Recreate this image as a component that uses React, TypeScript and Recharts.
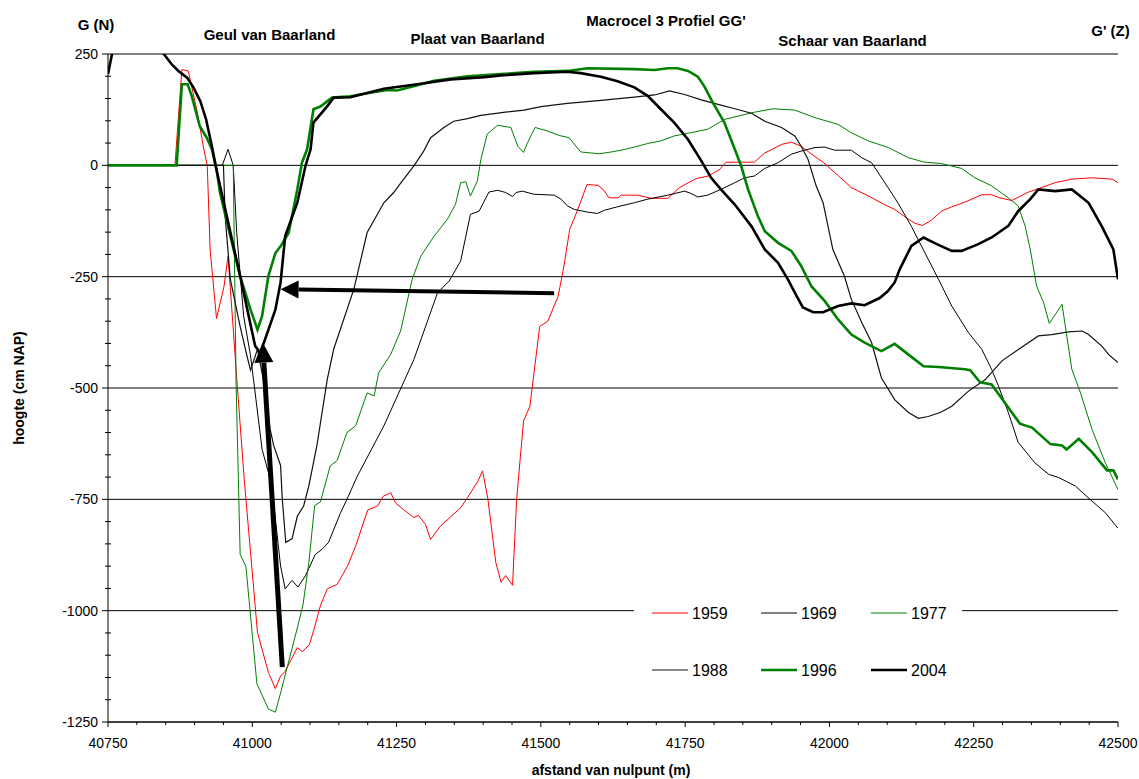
import React from 'react';
import { LineChart, Line, XAxis, YAxis, CartesianGrid, ReferenceLine } from 'recharts';

type Pt = [number, number];

const FONT = '"Liberation Sans", Arial, sans-serif';

// axis ticks
const yMajor = [250, 0, -250, -500, -750, -1000, -1250];
const xMajor = [40750, 41000, 41250, 41500, 41750, 42000, 42250, 42500];
const yTicks = Array.from({ length: 31 }, (_, i) => -1250 + i * 50);
const xTicks = Array.from({ length: 36 }, (_, i) => 40750 + i * 50);

// profiles [afstand (m), hoogte (cm NAP)]
const d1959: Pt[] = [
  [40750, 0], [40866, 0], [40878, 215], [40889, 212], [40904, 124], [40915, 44], [40922, -2], [40927, -190],
  [40938, -344], [40951, -272], [40958, -204], [40974, -495], [40986, -705], [41009, -1049], [41028, -1139],
  [41040, -1175], [41049, -1147], [41057, -1136], [41078, -1083], [41087, -1092], [41099, -1076], [41106, -1046],
  [41118, -989], [41130, -951], [41147, -941], [41165, -900], [41179, -855], [41200, -774], [41217, -765],
  [41227, -743], [41240, -735], [41248, -758], [41262, -773], [41280, -791], [41288, -786], [41300, -806],
  [41309, -840], [41326, -810], [41361, -769], [41373, -746], [41391, -709], [41399, -686], [41408, -747],
  [41422, -892], [41431, -936], [41439, -921], [41451, -943], [41458, -750], [41470, -574], [41481, -541],
  [41498, -362], [41512, -350], [41530, -294], [41540, -226], [41550, -144], [41564, -99], [41580, -43],
  [41599, -45], [41608, -54], [41618, -73], [41634, -73], [41639, -67], [41668, -67], [41691, -74], [41720, -74],
  [41740, -50], [41769, -30], [41790, -24], [41809, -10], [41821, 7], [41870, 7], [41887, 27], [41917, 47],
  [41934, 52], [41951, 43], [41965, 29], [41990, 6], [42016, -24], [42038, -50], [42068, -69], [42095, -88],
  [42113, -99], [42137, -121], [42148, -130], [42161, -135], [42177, -123], [42194, -103], [42212, -93],
  [42234, -83], [42264, -66], [42281, -66], [42295, -73], [42316, -79], [42345, -60], [42363, -52], [42391, -39],
  [42420, -31], [42455, -28], [42490, -31], [42500, -39],
];

const d1969: Pt[] = [
  [40750, 0], [40948, 0], [40958, 36], [40967, 0], [40973, -151], [40985, -338], [40997, -428], [41002, -480],
  [41017, -638], [41028, -690], [41037, -758], [41049, -900], [41057, -951], [41069, -932], [41079, -947],
  [41092, -922], [41109, -874], [41121, -862], [41132, -847], [41153, -780], [41164, -750], [41182, -698],
  [41228, -585], [41280, -436], [41321, -286], [41341, -260], [41361, -215], [41378, -110], [41393, -103],
  [41410, -60], [41425, -56], [41439, -61], [41451, -70], [41457, -61], [41468, -58], [41488, -65], [41523, -67],
  [41535, -76], [41546, -91], [41558, -99], [41581, -105], [41598, -108], [41610, -101], [41633, -93],
  [41662, -84], [41685, -76], [41720, -67], [41749, -58], [41760, -63], [41772, -71], [41789, -67], [41812, -54],
  [41836, -39], [41853, -28], [41870, -24], [41888, -7], [41911, 6], [41934, 25], [41951, 32], [41975, 40],
  [41992, 41], [42009, 34], [42038, 34], [42056, 17], [42073, 6], [42096, -39], [42119, -85], [42142, -137],
  [42189, -256], [42212, -316], [42241, -376], [42264, -413], [42281, -458], [42293, -496], [42310, -555],
  [42327, -622], [42356, -668], [42380, -694], [42397, -701], [42426, -720], [42455, -754], [42478, -780],
  [42500, -815],
];

const d1977: Pt[] = [
  [40750, 0], [40967, 0], [40972, -494], [40979, -874], [40989, -901], [41008, -1164], [41028, -1221],
  [41040, -1228], [41049, -1185], [41078, -1039], [41088, -986], [41098, -892], [41108, -764], [41118, -756],
  [41135, -675], [41147, -663], [41164, -600], [41179, -585], [41199, -511], [41211, -518], [41219, -466],
  [41240, -424], [41257, -372], [41277, -256], [41292, -204], [41315, -159], [41338, -121], [41352, -88],
  [41361, -39], [41370, -37], [41378, -69], [41390, -35], [41396, 13], [41407, 70], [41425, 90], [41448, 85],
  [41460, 43], [41470, 29], [41477, 51], [41490, 85], [41512, 77], [41532, 67], [41549, 62], [41569, 30],
  [41601, 26], [41622, 30], [41639, 34], [41662, 41], [41685, 49], [41708, 55], [41731, 66], [41755, 72],
  [41789, 81], [41818, 103], [41865, 118], [41902, 127], [41940, 124], [41975, 107], [42015, 92], [42038, 73],
  [42067, 55], [42102, 40], [42137, 17], [42165, 7], [42194, 4], [42229, -7], [42252, -28], [42281, -46],
  [42310, -73], [42327, -91], [42339, -136], [42348, -189], [42359, -271], [42371, -308], [42381, -355],
  [42403, -312], [42420, -458], [42435, -511], [42455, -593], [42478, -668], [42500, -728],
];

const d1988: Pt[] = [
  [40750, 0], [40950, 0], [40953, -115], [40962, -256], [40979, -362], [40991, -429], [40997, -460],
  [41009, -413], [41019, -480], [41031, -593], [41037, -629], [41049, -674], [41052, -749], [41058, -847],
  [41069, -838], [41078, -788], [41089, -765], [41098, -720], [41112, -629], [41130, -480], [41141, -413],
  [41176, -278], [41199, -151], [41228, -84], [41245, -61], [41260, -35], [41280, -1], [41297, 32], [41309, 62],
  [41332, 85], [41349, 99], [41373, 105], [41396, 112], [41442, 120], [41471, 124], [41500, 132], [41546, 139],
  [41604, 146], [41662, 153], [41697, 158], [41723, 167], [41749, 159], [41778, 147], [41807, 137], [41836, 127],
  [41865, 117], [41888, 99], [41917, 85], [41940, 66], [41951, 43], [41963, 13], [41977, -46], [41989, -84],
  [42006, -189], [42026, -249], [42038, -301], [42056, -353], [42073, -398], [42090, -477], [42113, -526],
  [42137, -555], [42154, -568], [42171, -564], [42192, -555], [42212, -541], [42241, -507], [42270, -481],
  [42299, -439], [42328, -413], [42362, -383], [42385, -380], [42414, -374], [42438, -372], [42449, -380],
  [42472, -406], [42484, -425], [42500, -443],
];

const d1996: Pt[] = [
  [40750, 0], [40869, 0], [40878, 182], [40888, 182], [40895, 156], [40909, 88], [40921, 62], [40930, 36],
  [40939, -16], [40944, -61], [40962, -159], [40979, -249], [40997, -324], [41009, -369], [41017, -338],
  [41028, -248], [41040, -197], [41049, -182], [41063, -152], [41078, -54], [41086, 6], [41095, 36],
  [41106, 126], [41118, 132], [41138, 152], [41170, 155], [41199, 162], [41234, 169], [41251, 168], [41286, 180],
  [41315, 190], [41373, 200], [41431, 205], [41488, 210], [41546, 212], [41581, 218], [41662, 216], [41697, 214],
  [41720, 218], [41737, 218], [41755, 212], [41772, 199], [41783, 178], [41798, 141], [41818, 96], [41836, 36],
  [41847, -1], [41859, -54], [41876, -114], [41888, -148], [41911, -174], [41934, -192], [41951, -226],
  [41969, -272], [41992, -305], [42015, -346], [42038, -380], [42061, -398], [42090, -417], [42113, -401],
  [42137, -425], [42163, -451], [42189, -453], [42235, -458], [42244, -460], [42261, -487], [42281, -492],
  [42304, -533], [42330, -580], [42351, -589], [42383, -626], [42403, -629], [42411, -638], [42432, -614],
  [42455, -644], [42481, -685], [42492, -685], [42500, -705],
];

const d2004: Pt[] = [
  [40750, 205], [40757, 250], [40780, 320], [40815, 310], [40846, 251], [40861, 226], [40872, 212],
  [40887, 197], [40898, 175], [40910, 144], [40920, 103], [40930, 43], [40939, -16], [40979, -249],
  [41005, -406], [41014, -421], [41040, -324], [41049, -263], [41057, -159], [41078, -84], [41092, -2],
  [41101, 36], [41106, 96], [41130, 133], [41141, 152], [41170, 153], [41228, 172], [41286, 182], [41344, 193],
  [41402, 198], [41431, 202], [41488, 207], [41546, 210], [41569, 207], [41604, 199], [41633, 189], [41662, 175],
  [41685, 156], [41708, 126], [41731, 96], [41755, 58], [41778, 10], [41795, -28], [41812, -54], [41836, -88],
  [41865, -137], [41888, -189], [41911, -219], [41928, -256], [41943, -293], [41954, -319], [41972, -330],
  [41989, -330], [42015, -316], [42038, -310], [42061, -314], [42087, -298], [42101, -283], [42113, -263],
  [42122, -233], [42142, -181], [42163, -162], [42186, -177], [42212, -192], [42229, -192], [42258, -177],
  [42281, -162], [42310, -136], [42327, -103], [42348, -76], [42362, -54], [42391, -58], [42420, -54],
  [42449, -84], [42472, -137], [42492, -189], [42500, -256],
];

// annotation arrows: [tail, tip]
const arrowWest: Pt[] = [[41523, -287], [41049, -278]];
const arrowNorth: Pt[] = [[41052, -1127], [41018, -398]];

const series = [
  { name: '1959', data: d1959, color: '#ff0000', width: 1 },
  { name: '1969', data: d1969, color: '#000000', width: 1 },
  { name: '1977', data: d1977, color: '#008000', width: 1 },
  { name: '1988', data: d1988, color: '#111111', width: 1.2 },
  { name: '1996', data: d1996, color: '#008000', width: 2.6 },
  { name: '2004', data: d2004, color: '#000000', width: 2.6 },
];

const YTick = (props: any) => {
  const { x, y, payload } = props;
  const v = payload.value;
  if (v % 250 !== 0) {
    return <line x1={x - 3} x2={x + 3} y1={y} y2={y} stroke="#000" />;
  }
  return (
    <g>
      <line x1={x - 6} x2={x} y1={y} y2={y} stroke="#000" />
      <text x={x - 10} y={y + 5} textAnchor="end" fontSize={14} fontFamily={FONT} fill="#000">
        {v}
      </text>
    </g>
  );
};

const XTick = (props: any) => {
  const { x, y, payload } = props;
  const v = payload.value;
  if (v % 250 !== 0) {
    return <line x1={x} x2={x} y1={y} y2={y + 3} stroke="#000" />;
  }
  return (
    <g>
      <line x1={x} x2={x} y1={y} y2={y + 5} stroke="#000" />
      <text x={x} y={y + 26} textAnchor="middle" fontSize={14} fontFamily={FONT} fill="#000">
        {v}
      </text>
    </g>
  );
};

const arrowShape = (w: number, head: number, half: number) => (props: any) => {
  const { x1, y1, x2, y2 } = props;
  const dx = x2 - x1;
  const dy = y2 - y1;
  const len = Math.hypot(dx, dy) || 1;
  const ux = dx / len;
  const uy = dy / len;
  const bx = x2 - ux * head;
  const by = y2 - uy * head;
  return (
    <g>
      <line x1={x1} y1={y1} x2={bx} y2={by} stroke="#000" strokeWidth={w} />
      <polygon
        points={`${x2},${y2} ${bx - uy * half},${by + ux * half} ${bx + uy * half},${by - ux * half}`}
        fill="#000"
      />
    </g>
  );
};

const legendCols = [652, 761, 871];
const legendRows = [613, 670];

export default function App() {
  return (
    <div style={{ position: 'absolute', left: 0, top: 0, width: 1139, height: 779, background: '#fff' }}>
      <LineChart width={1139} height={779} margin={{ top: 54, right: 21, bottom: 27, left: 48 }}>
        <CartesianGrid vertical={false} horizontalValues={yMajor} stroke="#000" strokeWidth={1} />
        <XAxis
          dataKey="x"
          type="number"
          domain={[40750, 42500]}
          ticks={xTicks}
          interval={0}
          height={30}
          tickSize={0}
          tickMargin={0}
          tickLine={false}
          axisLine={{ stroke: '#000' }}
          tick={<XTick />}
          allowDataOverflow
        />
        <YAxis
          type="number"
          domain={[-1250, 250]}
          ticks={yTicks}
          interval={0}
          width={60}
          tickSize={0}
          tickMargin={0}
          tickLine={false}
          axisLine={{ stroke: '#000' }}
          tick={<YTick />}
          allowDataOverflow
        />
        {series.map((s) => (
          <Line
            key={s.name}
            data={s.data.map(([x, y]) => ({ x, y }))}
            dataKey="y"
            type="linear"
            stroke={s.color}
            strokeWidth={s.width}
            dot={false}
            activeDot={false}
            isAnimationActive={false}
          />
        ))}
        <ReferenceLine
          segment={arrowWest.map(([x, y]) => ({ x, y }))}
          shape={arrowShape(4, 18, 9)}
          ifOverflow="visible"
        />
        <ReferenceLine
          segment={arrowNorth.map(([x, y]) => ({ x, y }))}
          shape={arrowShape(5, 20, 9.5)}
          ifOverflow="visible"
        />
      </LineChart>
      <svg
        width={1139}
        height={779}
        style={{ position: 'absolute', left: 0, top: 0, pointerEvents: 'none' }}
        fontFamily={FONT}
      >
        <g fontWeight="bold" fontSize={15} textAnchor="middle" fill="#000">
          <text x={96} y={30}>G (N)</text>
          <text x={269.5} y={39.5}>Geul van Baarland</text>
          <text x={477.5} y={43.5}>Plaat van Baarland</text>
          <text x={666} y={26}>Macrocel 3 Profiel GG'</text>
          <text x={852.5} y={46}>Schaar van Baarland</text>
          <text x={1110.5} y={36}>G' (Z)</text>
        </g>
        <text
          transform="translate(24,388) rotate(-90)"
          textAnchor="middle"
          fontWeight="bold"
          fontSize={14}
          fill="#000"
        >
          hoogte (cm NAP)
        </text>
        <text x={611} y={775} textAnchor="middle" fontWeight="bold" fontSize={14} fill="#000">
          afstand van nulpunt (m)
        </text>
        <rect x={634} y={590} width={328} height={100} fill="#fff" />
        {series.map((s, i) => {
          const cx = legendCols[i % 3];
          const cy = legendRows[Math.floor(i / 3)];
          return (
            <g key={s.name}>
              <line x1={cx} x2={cx + 36} y1={cy} y2={cy} stroke={s.color} strokeWidth={s.width} />
              <text x={cx + 40} y={cy + 6} fontSize={16} fill="#000">
                {s.name}
              </text>
            </g>
          );
        })}
      </svg>
    </div>
  );
}
